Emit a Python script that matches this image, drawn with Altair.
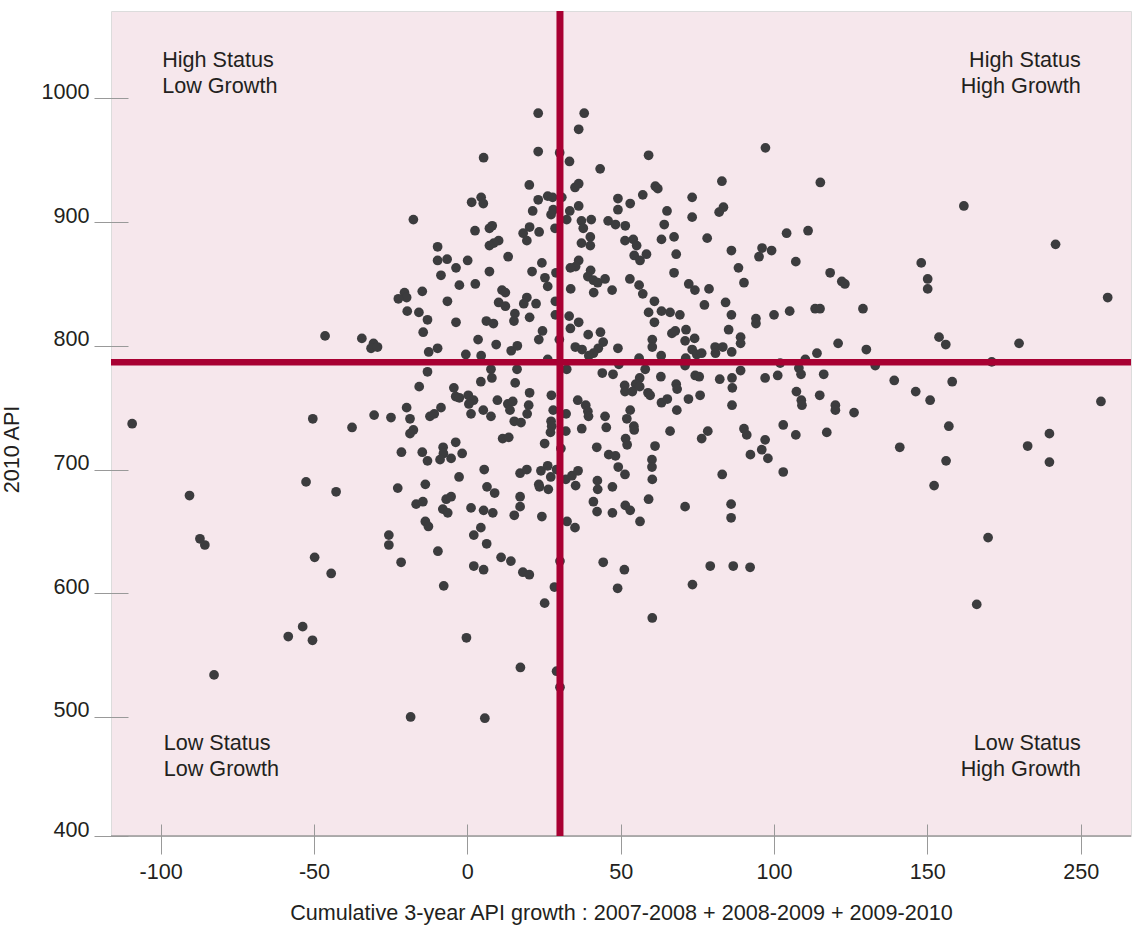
import altair as alt
import pandas as pd

# ---- data ----
growth = [
    -17.6, -20.5, -19.8, -22.5, -14.7, -19.6, -15.8, -13, -14.4, -46.4,
    -34.4, -30.6, -31.4, -29.3, -12.6, -13, -15.7, -19.8, -30.4, -24.9,
    -18.7, -50.4, -12.2, 23.1, 38.1, 36.3, 23.1, 30.1, 33.3, 5.3,
    59.1, 43.3, 20.2, 35.1, 36.3, 61.3, 62.1, 83, 57.2, 49.1,
    53.1, 73.3, 26.2, 27.8, 30.8, 23.1, 4.5, 5.2, 1.4, 36.3,
    33.4, 21.3, 28, 27.3, 49.1, 83.5, 82.1, 65.1, 73.3, 32.4,
    37.2, 40.4, 45.9, 48.3, 51.5, 64.2, 8.1, 7.2, 2.5, 20.3,
    23.4, 28.6, 37.8, 18.2, 19.4, 67.4, 78.2, 63.3, 40.1, 37.2,
    40.1, 51.4, 54.1, 55.2, 10.2, 8.6, 7.2, -9.7, 86.1, 68.1,
    54.4, 56.3, 58.4, 13.3, -9.7, -6.6, 0.1, 36.3, 35.3, 33.6,
    24.3, -3.7, 88.4, 7.2, 21.1, 28.9, -8.6, 40.2, 39.3, 41.1,
    42.5, 44.9, 67.4, 25.3, 26.2, 53, 72.2, 74.2, 78.8, -2.6,
    2.6, 33.7, 41.2, 47.2, 56, 57.2, 11.3, 12.4, -6.5, 10.2,
    12.4, 19.4, 18.4, 22.4, 28.7, 61, 77.3, 84.2, 59.1, 63.3,
    66.1, 69.3, 86.1, -3.7, 6.2, 8.5, 15.5, 15.2, 20.3, 28.7,
    33.2, 36.3, 33.6, 61, 24.5, 43.4, 39.4, 66.7, 67.8, 71.3,
    85.2, 3.5, 9.4, 23.3, 30, 44.3, 42.7, 41.1, 39.6, 35.2,
    37.4, 49.1, 60.3, 60.3, 71, 74.1, 73.3, 74.8, 76.4, 80.8,
    83.3, 80.9, 86.2, -9.7, -0.5, 4.5, 14.3, 16.3, 26.2, 56,
    63.2, 71.2, 71, 32.4, 49.4, 58, 16.2, 7.7, 8, 44,
    47.5, 63.1, 74.3, 75.6, 82.3, 86.3, 86.4, 4.4, 15.6, 56.2,
    54.9, 51.3, 51.4, 53.8, 56.2, 68.1, 68.4, -4.4, -3.8, -2.6,
    0.3, 2, 0.5, 1.2, 20.3, 27.4, 58.9, 59.6, 72.1, 75.9,
    9.8, 13.2, 14.8, 13.9, 20, 19.5, 36, 38.6, 39.3, 39.5,
    44.9, 63.3, 65.2, 68.3, 86.3, 53.1, -8.6, -10.8, 5.2, 7.7,
    28, 32.2, 52, 90.2, 89.1, 89.1, 89.1, 97.2, 115.1, 161.9,
    191.8, 96.1, 95.1, 99.2, 104.1, 111.1, 107.1, 118.3, 122.1, 123.1,
    148, 150.1, 150.1, 208.8, 94.1, 94.1, 100, 105.1, 113.4, 115,
    129, 153.8, 156, 179.9, 120.9, 130.1, 114, 110.2, 102, 171,
    133, 108.1, 108.8, 116.2, 97.1, 101.2, 139.2, 146.2, 158.1, 150.9,
    206.6, 107.3, 108.9, 109.1, 114.9, 120, 120, 126.1, -109.3, -37.6,
    -17.6, -18.7, -21.5, -14.7, -13, -52.6, -42.8, -90.6, -22.7, -13.7,
    -16.7, -14.5, -13.7, -12.7, -87.2, -85.6, -25.6, -25.6, -21.6, -49.8,
    -44.4, -53.7, -58.4, -50.5, -82.6, -18.5, 15.3, 17.5, 27.3, 27.5,
    27.1, 32.1, 37.3, 45.3, 54.3, 54.4, 66.1, 78.4, 76.4, -3.8,
    -7.9, -7.8, -8.9, -5.3, -1.7, 11.5, 13.5, 25.2, 30.5, 42.2,
    46.1, 48.3, 51.6, 52.1, 61.2, 60.2, 60.2, 49.2, 51.4, 60.3,
    83.1, 5.5, -2.7, 17.2, 19.4, 24, 26.2, 27.2, 29.1, 23.3,
    23.5, 26.4, 32.1, 34.1, 36.1, 35.3, 42.4, 42.5, 47.3, 41.1,
    42.3, 47.3, 51.5, 53.1, 59.1, 56.3, 71, 86, 86, 6.4,
    8.9, 17.2, 17.2, -6.9, -5.3, -8, -6.4, 1.2, 5.3, 8.3,
    15.3, 24.3, 32.5, 35.1, 4.4, 2.1, 6.3, -9.6, 11, 14.2,
    30.2, 44.3, 51.2, 49, 79.2, 86.7, 73.4, 2.1, 5.3, 18.1,
    20.2, -7.7, 28.4, 25.2, 60.3, -0.3, 17.3, 29.1, 30.2, 5.7,
    90.2, 91.1, 103, 107.1, 117.2, 97.1, 96, 92.3, 98, 103,
    141, 157, 156.1, 152.2, 182.7, 189.8, 189.8, 169.8, 166.1, 92.2,
]

api = [
    902, 843, 839, 838, 844, 828, 827, 821, 811, 808,
    806, 802, 798, 799, 795, 779, 767, 750, 744, 742,
    741, 741, 743, 988, 988, 975, 957, 956, 949, 952,
    954, 943, 930, 928, 931, 929, 927, 933, 922, 919,
    915, 920, 921, 920, 920, 918, 920, 915, 916, 913,
    909, 909, 910, 906, 910, 912, 908, 909, 904, 902,
    901, 902, 901, 898, 897, 898, 897, 895, 893, 896,
    892, 895, 895, 891, 885, 888, 887, 886, 888, 883,
    881, 885, 886, 881, 885, 883, 881, 880, 877, 874,
    873, 869, 874, 872, 869, 870, 869, 869, 864, 863,
    867, 863, 863, 860, 860, 859, 857, 861, 856, 853,
    851, 854, 859, 855, 848, 854, 850, 845, 846, 849,
    850, 846, 843, 845, 849, 842, 845, 843, 836, 835,
    832, 839, 834, 834, 836, 836, 833, 835, 827, 828,
    827, 825, 825, 819, 820, 818, 826, 820, 823, 825,
    824, 819, 814, 819, 812, 811, 809, 810, 812, 813,
    813, 805, 801, 805, 805, 803, 798, 794, 792, 799,
    797, 798, 805, 799, 804, 806, 797, 793, 794, 799,
    799, 794, 795, 798, 793, 792, 796, 800, 789, 790,
    792, 790, 784, 781, 785, 781, 781, 781, 774, 778,
    777, 775, 776, 775, 773, 774, 766, 771, 770, 774,
    769, 768, 763, 763, 767, 769, 765, 766, 759, 758,
    760, 756, 753, 745, 762, 760, 762, 760, 757, 760,
    756, 753, 755, 748, 752, 745, 756, 752, 747, 743,
    743, 754, 757, 748, 752, 748, 750, 745, 748, 743,
    748, 745, 741, 851, 807, 802, 780, 960, 932, 913,
    882, 879, 872, 877, 891, 893, 868, 859, 852, 850,
    867, 854, 846, 839, 822, 818, 825, 828, 830, 830,
    830, 807, 801, 802, 802, 797, 794, 789, 786, 787,
    784, 782, 777, 777, 774, 776, 772, 763, 771, 756,
    755, 763, 756, 752, 760, 752, 748, 746, 737, 734,
    732, 729, 714, 714, 707, 690, 682, 679, 685, 688,
    672, 674, 658, 654, 644, 639, 647, 639, 625, 629,
    616, 573, 565, 562, 534, 500, 739, 738, 739, 735,
    730, 731, 733, 734, 735, 732, 731, 731, 725, 722,
    718, 713, 708, 709, 713, 725, 726, 721, 717, 718,
    712, 711, 725, 720, 719, 708, 702, 702, 696, 692,
    696, 700, 694, 697, 700, 699, 703, 694, 700, 688,
    686, 684, 692, 695, 699, 687, 691, 684, 686, 674,
    666, 665, 671, 667, 676, 658, 670, 672, 661, 686,
    681, 678, 670, 676, 678, 668, 665, 669, 667, 665,
    663, 662, 658, 653, 653, 647, 640, 634, 629, 626,
    626, 625, 619, 604, 622, 622, 607, 622, 619, 617,
    615, 606, 605, 592, 580, 564, 540, 537, 524, 499,
    733, 728, 736, 728, 730, 724, 716, 712, 709, 698,
    718, 735, 707, 687, 719, 729, 706, 645, 591, 621,
]

# axis ticks / labels as printed in the reference
x_tick_values = [-100, -50, 0, 50, 100, 150, 200]
x_tick_labels = ["-100", "-50", "0", "50", "100", "150", "250"]
y_tick_values = [403.8, 500, 600, 700, 800, 900, 1000]
y_tick_labels = ["400", "500", "600", "700", "800", "900", "1000"]

x_domain = [-116.2, 216.4]
y_domain = [403.8, 1070.6]

mean_growth = [30.2]
mean_api = [786.7]

quad_text = ["High Status", "Low Growth", "Low Status", "Low Growth",
             "High Status", "High Growth", "Low Status", "High Growth"]
quad_growth = [-99.5, -99.5, -99.0, -99.0, 200, 200, 200, 200]
quad_api = [1025.5, 1004.0, 473.3, 452.3, 1025.5, 1004.0, 473.3, 452.3]
quad_side = ["left", "left", "left", "left", "right", "right", "right", "right"]

# ---- styling ----
FONT = "Liberation Sans"
FS = 21.6
TXT = "#231F20"
RED = "#A80032"
GRAY = "#999999"

points_df = pd.DataFrame({"gx": growth, "api": api})
quad_df = pd.DataFrame({"gx": quad_growth, "api": quad_api, "label": quad_text, "side": quad_side})

xscale = alt.Scale(domain=x_domain, nice=False, zero=False)
yscale = alt.Scale(domain=y_domain, nice=False, zero=False)

def label_expr(values, labels):
    parts = ""
    for v, l in zip(values, labels):
        parts += f"abs(datum.value - {v}) < 0.01 ? '{l}' : "
    return parts + "''"

x_axis = alt.Axis(
    values=x_tick_values,
    labelExpr=label_expr(x_tick_values, x_tick_labels),
    domain=False, grid=False,
    tickSize=30, tickColor=GRAY, tickWidth=1, offset=-12,
    labelPadding=24, labelBaseline="alphabetic",
    labelFont=FONT, labelFontSize=FS, labelColor=TXT,
    title="Cumulative 3-year API growth : 2007-2008 + 2008-2009 + 2009-2010",
    titleFont=FONT, titleFontSize=FS, titleFontWeight="normal", titleColor=TXT,
    titleBaseline="alphabetic", titleY=95,
)
y_axis = alt.Axis(
    values=y_tick_values,
    labelExpr=label_expr(y_tick_values, y_tick_labels),
    domain=False, grid=False,
    tickSize=34, tickColor=GRAY, tickWidth=1, offset=-17,
    labelPadding=5, labelBaseline="alphabetic", labelAlign="right",
    labelFont=FONT, labelFontSize=FS, labelColor=TXT,
    title="2010 API",
    titleFont=FONT, titleFontSize=FS, titleFontWeight="normal", titleColor=TXT,
    titleAngle=270, titleAlign="center", titleBaseline="middle",
    titleX=-116, titleY=438,
)

def X():
    return alt.X("gx:Q", scale=xscale, axis=x_axis)

def Y():
    return alt.Y("api:Q", scale=yscale, axis=y_axis)

points = alt.Chart(points_df).mark_circle(size=95, color="#3C3C3E", opacity=1).encode(
    x=X(), y=Y(),
)

baseline = alt.Chart(pd.DataFrame({"api": [y_domain[0]]})).mark_rule(
    color=GRAY, strokeWidth=1.5
).encode(y=Y())

vline = alt.Chart(pd.DataFrame({"gx": mean_growth})).mark_rule(
    color=RED, strokeWidth=7
).encode(x=X())

hline = alt.Chart(pd.DataFrame({"api": mean_api})).mark_rule(
    color=RED, strokeWidth=6.5
).encode(y=Y())

def quad_layer(side):
    return alt.Chart(quad_df).transform_filter(
        alt.datum.side == side
    ).mark_text(
        align=side, baseline="alphabetic", font=FONT, fontSize=FS, color=TXT
    ).encode(
        x=X(), y=Y(),
        text="label:N",
    )

chart = alt.layer(
    points, baseline, vline, hline, quad_layer("left"), quad_layer("right")
).properties(
    width=1020, height=825,
    padding={"left": 111, "top": 11, "right": 5, "bottom": 90},
    autosize=alt.AutoSizeParams(type="none"),
    background="white",
).configure_view(
    fill="#F6E7EC", stroke="#DCDCDC", strokeWidth=1
)

chart.save("out.html", embed_options={"renderer": "svg", "actions": False})
